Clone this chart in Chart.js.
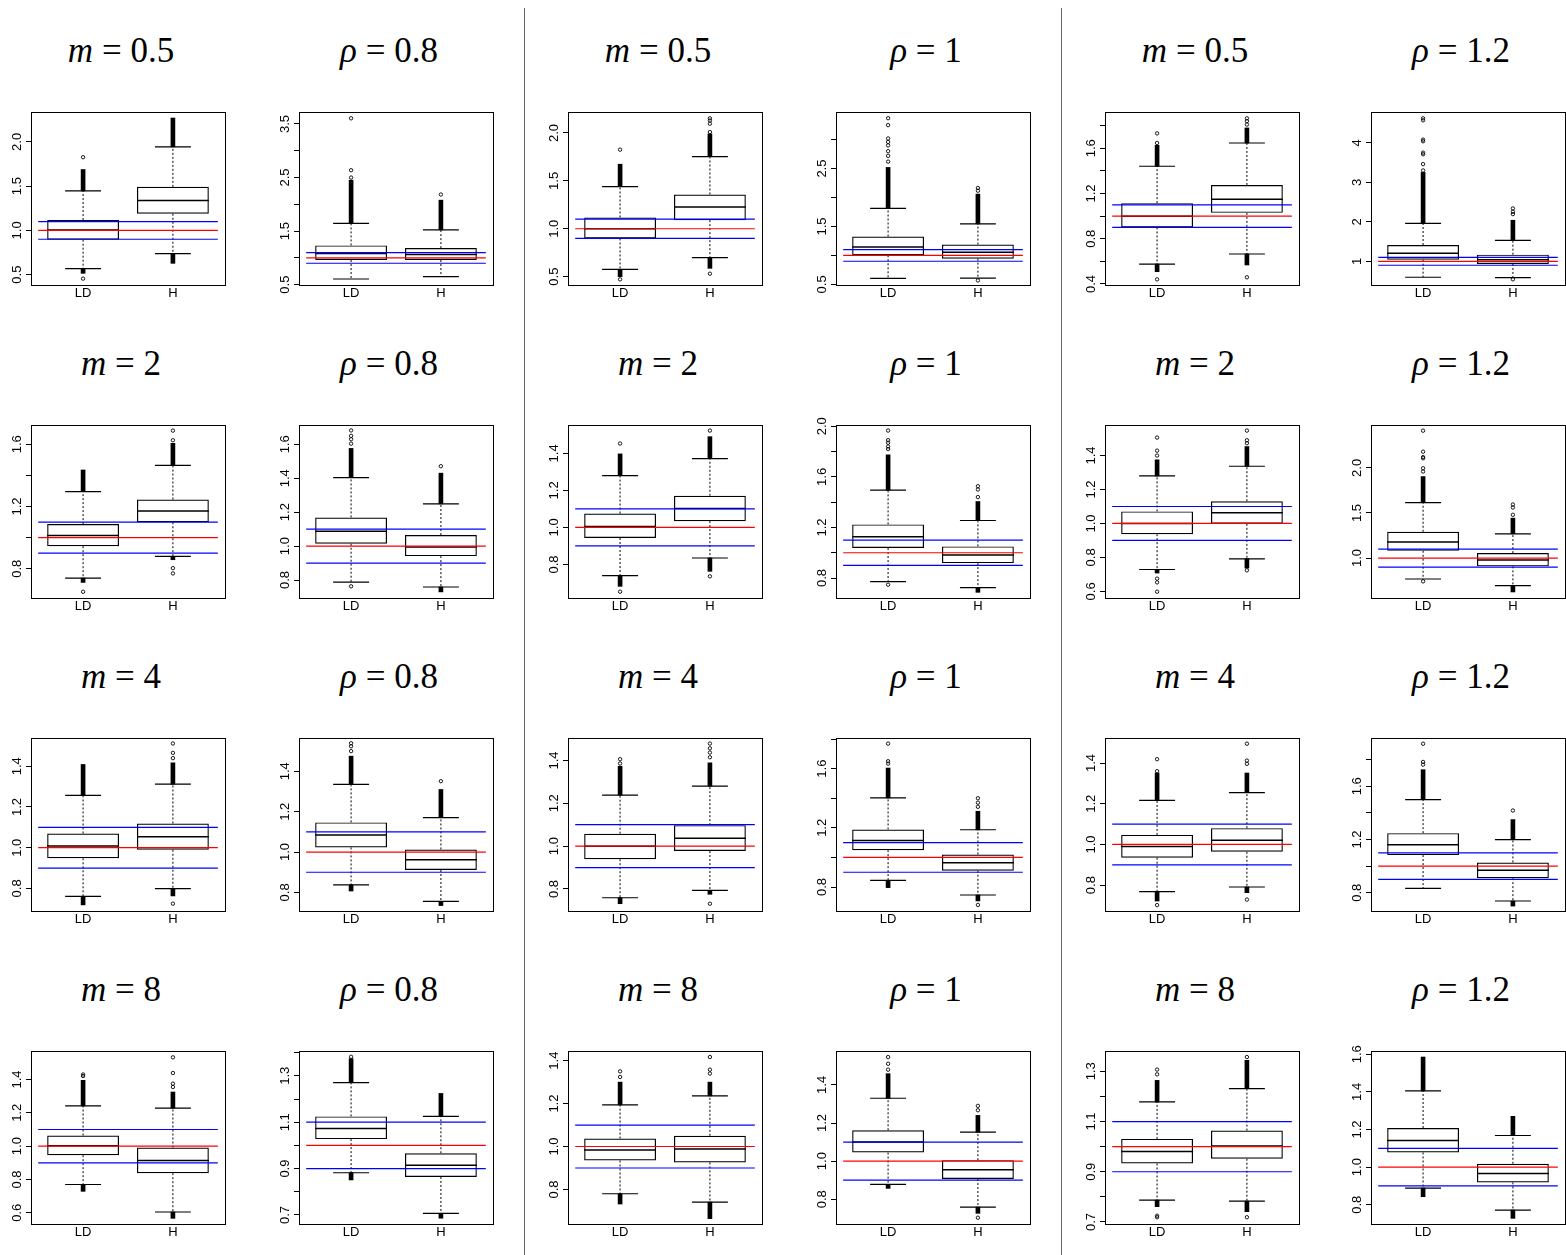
<!DOCTYPE html>
<html>
<head>
<meta charset="utf-8">
<script src="https://cdn.jsdelivr.net/npm/chart.js@4.4.1/dist/chart.umd.min.js"></script>
<style>
  html, body { margin: 0; padding: 0; background: #fff; }
  #page { position: relative; width: 1566px; height: 1255px; overflow: hidden; }
  .panel { position: absolute; }
  .title { position: absolute; transform: translate(-50%, -50%); font-family: "Liberation Serif", "DejaVu Serif", serif; font-size: 35px; white-space: nowrap; color: #000; }
  .sep { position: absolute; top: 8px; bottom: 0; width: 1px; background: #666; }
</style>
</head>
<body>
<div id="page"></div>
<script>
// groups on the x axis, and the panel labels
const groups = ['LD', 'H'];
const mValues = ['0.5', '2', '4', '8'];
const rhoValues = ['0.8', '1', '1.2'];
const refLevels = [0.9, 1.0, 1.1];

// panels in reading order: 4 rows x 6 columns
const yRange = [
    [0.383, 2.338], [0.494, 3.724], [0.413, 2.219], [0.49, 3.477], [0.391, 1.921], [0.40, 4.78],
    [0.612, 1.724], [0.694, 1.714], [0.619, 1.553], [0.642, 2.01], [0.561, 1.58], [0.557, 2.476],
    [0.689, 1.539], [0.708, 1.565], [0.697, 1.505], [0.638, 1.807], [0.673, 1.523], [0.663, 1.963],
    [0.533, 1.571], [0.661, 1.407], [0.639, 1.445], [0.67, 1.578], [0.692, 1.381], [0.698, 1.617]
];
const yTickVals = [
    [0.5, 1.0, 1.5, 2.0], [0.5, 1.0, 1.5, 2.0, 2.5, 3.0, 3.5], [0.5, 1.0, 1.5, 2.0],
    [0.5, 1.0, 1.5, 2.0, 2.5, 3.0], [0.4, 0.6, 0.8, 1.0, 1.2, 1.4, 1.6, 1.8], [1, 2, 3, 4],
    [0.8, 1.0, 1.2, 1.4, 1.6], [0.8, 1.0, 1.2, 1.4, 1.6], [0.8, 1.0, 1.2, 1.4],
    [0.8, 1.0, 1.2, 1.4, 1.6, 1.8, 2.0], [0.6, 0.8, 1.0, 1.2, 1.4], [1.0, 1.5, 2.0],
    [0.8, 1.0, 1.2, 1.4], [0.8, 1.0, 1.2, 1.4], [0.8, 1.0, 1.2, 1.4],
    [0.8, 1.0, 1.2, 1.4, 1.6, 1.8], [0.8, 1.0, 1.2, 1.4], [0.8, 1.0, 1.2, 1.4, 1.6, 1.8],
    [0.6, 0.8, 1.0, 1.2, 1.4], [0.7, 0.8, 0.9, 1.0, 1.1, 1.2, 1.3, 1.4], [0.8, 1.0, 1.2, 1.4],
    [0.8, 1.0, 1.2, 1.4], [0.7, 0.8, 0.9, 1.0, 1.1, 1.2, 1.3], [0.8, 1.0, 1.2, 1.4, 1.6]
];
const yTickText = [
    ['0.5', '1.0', '1.5', '2.0'], ['0.5', '', '1.5', '', '2.5', '', '3.5'], ['0.5', '1.0', '1.5', '2.0'],
    ['0.5', '', '1.5', '', '2.5', ''], ['0.4', '', '0.8', '', '1.2', '', '1.6', ''], ['1', '2', '3', '4'],
    ['0.8', '', '1.2', '', '1.6'], ['0.8', '1.0', '1.2', '1.4', '1.6'], ['0.8', '1.0', '1.2', '1.4'],
    ['0.8', '', '1.2', '', '1.6', '', '2.0'], ['0.6', '0.8', '1.0', '1.2', '1.4'], ['1.0', '1.5', '2.0'],
    ['0.8', '1.0', '1.2', '1.4'], ['0.8', '1.0', '1.2', '1.4'], ['0.8', '1.0', '1.2', '1.4'],
    ['0.8', '', '1.2', '', '1.6', ''], ['0.8', '1.0', '1.2', '1.4'], ['0.8', '', '1.2', '', '1.6', ''],
    ['0.6', '0.8', '1.0', '1.2', '1.4'], ['0.7', '', '0.9', '', '1.1', '', '1.3', ''], ['0.8', '1.0', '1.2', '1.4'],
    ['0.8', '1.0', '1.2', '1.4'], ['0.7', '', '0.9', '', '1.1', '', '1.3'], ['0.8', '1.0', '1.2', '1.4', '1.6']
];

// box stats: [lower whisker, q1, median, q3, upper whisker]
const ldStats = [
    [0.568, 0.895, 1.005, 1.117, 1.447], [0.606, 0.96, 1.08, 1.233, 1.643], [0.576, 0.899, 1.0, 1.118, 1.441],
    [0.604, 1.003, 1.147, 1.327, 1.812], [0.576, 0.9, 1.0, 1.115, 1.441], [0.596, 1.042, 1.202, 1.412, 1.96],
    [0.74, 0.945, 1.014, 1.087, 1.296], [0.788, 1.014, 1.088, 1.169, 1.404], [0.74, 0.943, 1.005, 1.075, 1.28],
    [0.771, 1.037, 1.126, 1.224, 1.495], [0.729, 0.937, 1.0, 1.071, 1.28], [0.768, 1.081, 1.177, 1.292, 1.616],
    [0.761, 0.948, 1.008, 1.07, 1.257], [0.837, 1.023, 1.084, 1.147, 1.335], [0.759, 0.939, 1.0, 1.058, 1.238],
    [0.845, 1.049, 1.115, 1.189, 1.402], [0.768, 0.935, 0.99, 1.047, 1.217], [0.833, 1.083, 1.16, 1.248, 1.5],
    [0.77, 0.946, 1.002, 1.064, 1.242], [0.882, 1.027, 1.073, 1.125, 1.271], [0.78, 0.935, 0.984, 1.037, 1.194],
    [0.878, 1.045, 1.101, 1.162, 1.33], [0.787, 0.933, 0.981, 1.031, 1.178], [0.889, 1.078, 1.141, 1.208, 1.405]
];
const hStats = [
    [0.737, 1.188, 1.338, 1.492, 1.944], [0.649, 0.96, 1.065, 1.183, 1.525], [0.698, 1.09, 1.226, 1.358, 1.753],
    [0.61, 0.945, 1.055, 1.188, 1.546], [0.665, 1.029, 1.15, 1.276, 1.647], [0.588, 0.933, 1.042, 1.168, 1.53],
    [0.879, 1.099, 1.172, 1.245, 1.465], [0.759, 0.941, 0.995, 1.065, 1.249], [0.835, 1.034, 1.102, 1.171, 1.372],
    [0.724, 0.918, 0.982, 1.05, 1.255], [0.792, 0.998, 1.063, 1.131, 1.337], [0.694, 0.908, 0.978, 1.055, 1.269],
    [0.799, 0.99, 1.054, 1.119, 1.312], [0.756, 0.911, 0.962, 1.013, 1.171], [0.793, 0.977, 1.037, 1.098, 1.28],
    [0.746, 0.91, 0.964, 1.02, 1.187], [0.791, 0.964, 1.021, 1.08, 1.255], [0.738, 0.91, 0.97, 1.028, 1.2],
    [0.605, 0.838, 0.914, 0.992, 1.228], [0.707, 0.864, 0.914, 0.966, 1.125], [0.741, 0.926, 0.988, 1.05, 1.236],
    [0.759, 0.906, 0.955, 1.005, 1.152], [0.783, 0.952, 1.003, 1.064, 1.231], [0.772, 0.919, 0.966, 1.018, 1.168]
];

// dense runs of outliers beyond the whiskers: [lowest end, highest end] (null = none)
const ldBand = [
    [0.515, 1.688], [null, 2.45], [0.5, 1.674], [null, 2.52], [0.509, 1.626], [null, 3.25],
    [0.712, 1.435], [null, 1.576], [0.682, 1.397], [null, 1.774], [0.708, 1.375], [null, 1.904],
    [0.719, 1.409], [0.807, 1.475], [0.731, 1.373], [0.796, 1.604], [0.722, 1.351], [null, 1.725],
    [0.729, 1.395], [0.851, 1.374], [0.732, 1.30], [0.857, 1.459], [0.761, 1.264], [0.843, 1.585]
];
const hBand = [
    [0.628, 2.27], [null, 2.078], [0.587, 1.99], [null, 2.06], [0.568, 1.78], [null, 2.04],
    [0.858, 1.606], [0.73, 1.43], [0.763, 1.49], [0.687, 1.405], [0.737, 1.453], [0.624, 1.443],
    [0.763, 1.417], [0.735, 1.31], [0.775, 1.389], [0.706, 1.312], [0.763, 1.351], [0.7, 1.35],
    [0.567, 1.325], [0.686, 1.224], [0.664, 1.30], [0.726, 1.24], [0.741, 1.344], [0.728, 1.27]
];

// isolated outliers
const ldOut = [
    [0.455, 1.827], [2.5, 2.637, 3.606], [0.472, 1.826], [2.62, 2.72, 2.8, 2.9, 2.96, 3.02, 3.25, 3.37],
    [0.441, 1.647, 1.732], [3.3, 3.46, 3.71, 3.75, 4.04, 4.08, 4.57, 4.62],
    [0.652], [0.763, 1.604, 1.63, 1.65, 1.682], [0.653, 1.453], [0.747, 1.82, 1.84, 1.87, 1.89, 1.966],
    [0.598, 0.653, 0.675, 1.4, 1.429, 1.506], [0.742, 1.96, 1.996, 2.107, 2.12, 2.18, 2.413],
    [], [1.5, 1.524, 1.539], [1.386, 1.406], [1.634, 1.65, 1.769], [0.702, 1.36, 1.419], [1.763, 1.783, 1.92],
    [1.421, 1.43], [1.382], [1.324, 1.35], [1.48, 1.511, 1.546], [0.719, 0.725, 1.288, 1.307], []
];
const hOut = [
    [], [2.183], [0.531, 2.01, 2.097, 2.13, 2.153], [0.569, 2.118, 2.165], [0.459, 1.81, 1.84, 1.865],
    [0.545, 2.195, 2.254, 2.338],
    [0.77, 0.804, 1.626, 1.688], [1.471], [0.736, 1.523], [1.44, 1.5, 1.526], [0.724, 1.473, 1.49, 1.547],
    [1.48, 1.561, 1.594],
    [0.725, 1.44, 1.466, 1.512], [1.351], [0.731, 1.415, 1.437, 1.457, 1.479], [0.679, 1.342, 1.37, 1.4],
    [0.729, 1.396, 1.412, 1.495], [1.418],
    [1.355, 1.375, 1.439, 1.533], [], [1.34, 1.358, 1.417], [0.703, 1.267, 1.29], [0.719, 1.357], []
];

// layout
const plotLeft = [31, 299, 568, 836, 1105, 1371];
const plotTop = [112, 425, 738, 1051];
const plotW = 194, plotH = 173;
const padL = 31, padT = 16, padR = 12, padB = 24;
const BOX_HALF = 0.4, CAP_HALF = 0.2;

// turn [x0, y0, x1, y1] pieces into one line dataset with gaps between pieces
function segs(pieces) {
    const out = [];
    pieces.forEach(([x0, y0, x1, y1], i) => {
        if (i) out.push({ x: x0, y: null });
        out.push({ x: x0, y: y0 }, { x: x1, y: y1 });
    });
    return out;
}

function makePanel(r, c) {
    const p = r * 6 + c;
    const page = document.getElementById('page');

    const title = document.createElement('div');
    title.className = 'title';
    title.innerHTML = c % 2 === 0
        ? `<i>m</i> = ${mValues[r]}`
        : `<i>ρ</i> = ${rhoValues[Math.floor(c / 2)]}`;
    title.style.left = (plotLeft[c] + plotW / 2 - 7) + 'px';
    title.style.top = (plotTop[r] - 61) + 'px';
    page.appendChild(title);

    const wrap = document.createElement('div');
    wrap.className = 'panel';
    wrap.style.left = (plotLeft[c] - padL) + 'px';
    wrap.style.top = (plotTop[r] - padT) + 'px';
    const canvas = document.createElement('canvas');
    canvas.width = padL + plotW + padR;
    canvas.height = padT + plotH + padB;
    wrap.appendChild(canvas);
    page.appendChild(wrap);

    const stats = [ldStats[p], hStats[p]];
    const bands = [ldBand[p], hBand[p]];
    const outs = [ldOut[p], hOut[p]];

    const whiskers = [], caps = [], bandBars = [], points = [];
    stats.forEach((s, i) => {
        const x = i + 1;
        whiskers.push([x, s[3], x, s[4]], [x, s[1], x, s[0]]);
        caps.push([x - CAP_HALF, s[4], x + CAP_HALF, s[4]], [x - CAP_HALF, s[0], x + CAP_HALF, s[0]]);
        if (bands[i][1] !== null) bandBars.push({ x, y: [s[4], bands[i][1]] });
        if (bands[i][0] !== null) bandBars.push({ x, y: [bands[i][0], s[0]] });
        outs[i].forEach(v => points.push({ x, y: v }));
    });

    const lineBase = { type: 'line', pointRadius: 0, tension: 0, spanGaps: false, borderColor: '#000', fill: false };

    const framePlugin = {
        id: 'frameAndLabels',
        afterDraw(chart) {
            const { ctx, chartArea: a, scales: { y } } = chart;
            ctx.save();
            ctx.strokeStyle = '#000';
            ctx.lineWidth = 1;
            ctx.strokeRect(Math.round(a.left) + 0.5, Math.round(a.top) + 0.5,
                Math.round(a.right - a.left), Math.round(a.bottom - a.top));
            ctx.font = '13px "Liberation Sans", Arial, sans-serif';
            ctx.fillStyle = '#000';
            ctx.textAlign = 'center';
            ctx.textBaseline = 'middle';
            y.ticks.forEach((t, i) => {
                const txt = yTickText[p][i];
                if (!txt) return;
                ctx.save();
                ctx.translate(a.left - 14, y.getPixelForValue(t.value));
                ctx.rotate(-Math.PI / 2);
                ctx.fillText(txt, 0, 0);
                ctx.restore();
            });
            ctx.restore();
        }
    };

    new Chart(canvas.getContext('2d'), {
        type: 'bar',
        data: {
            datasets: [
                ...refLevels.map(v => ({
                    ...lineBase, order: 0,
                    data: [{ x: 0.5, y: v }, { x: 2.5, y: v }],
                    borderColor: v === 1 ? '#ff0000' : '#0000ff', borderWidth: 1.2
                })),
                { ...lineBase, order: 1, data: segs(stats.map((s, i) => [i + 1 - BOX_HALF, s[2], i + 1 + BOX_HALF, s[2]])), borderWidth: 1.5 },
                {
                    type: 'bar', order: 2,
                    data: stats.map((s, i) => ({ x: i + 1, y: [s[1], s[3]] })),
                    backgroundColor: 'rgba(0,0,0,0)', borderColor: '#000', borderWidth: 1.2,
                    borderSkipped: false, grouped: false, barPercentage: 0.8, categoryPercentage: 1
                },
                { ...lineBase, order: 3, data: segs(whiskers), borderWidth: 1, borderDash: [2, 2] },
                { ...lineBase, order: 3, data: segs(caps), borderWidth: 1.2 },
                { type: 'bar', order: 4, data: bandBars, backgroundColor: '#000', borderWidth: 0, barThickness: 4, grouped: false },
                {
                    ...lineBase, order: 4, data: points, showLine: false,
                    pointRadius: 1.7, pointBorderWidth: 0.9, pointBorderColor: '#000',
                    pointBackgroundColor: 'rgba(0,0,0,0)'
                }
            ]
        },
        options: {
            responsive: false,
            devicePixelRatio: 1,
            animation: false,
            events: [],
            layout: { padding: { top: padT, right: padR, bottom: 0, left: 0 } },
            plugins: { legend: { display: false }, tooltip: { enabled: false } },
            scales: {
                x: {
                    type: 'linear', offset: false, min: 0.42, max: 2.58,
                    afterBuildTicks: s => { s.ticks = groups.map((g, i) => ({ value: i + 1 })); },
                    afterFit: s => { s.height = padB; },
                    grid: { display: false, drawTicks: false, offset: false },
                    border: { display: false },
                    ticks: {
                        callback: v => groups[v - 1], autoSkip: false, maxRotation: 0, padding: 1,
                        color: '#000', font: { family: '"Liberation Sans", Arial, sans-serif', size: 13 }
                    }
                },
                y: {
                    type: 'linear', bounds: 'data', min: yRange[p][0], max: yRange[p][1],
                    afterBuildTicks: s => { s.ticks = yTickVals[p].map(v => ({ value: v })); },
                    afterFit: s => { s.width = padL; },
                    grid: { drawOnChartArea: false, drawTicks: true, tickLength: 5, color: '#000', lineWidth: 1 },
                    border: { display: false },
                    ticks: { display: false }
                }
            }
        },
        plugins: [framePlugin]
    });
}

[524, 1061].forEach(x => {
    const d = document.createElement('div');
    d.className = 'sep';
    d.style.left = x + 'px';
    document.getElementById('page').appendChild(d);
});

for (let r = 0; r < 4; r++) {
    for (let c = 0; c < 6; c++) makePanel(r, c);
}
</script>
</body>
</html>
